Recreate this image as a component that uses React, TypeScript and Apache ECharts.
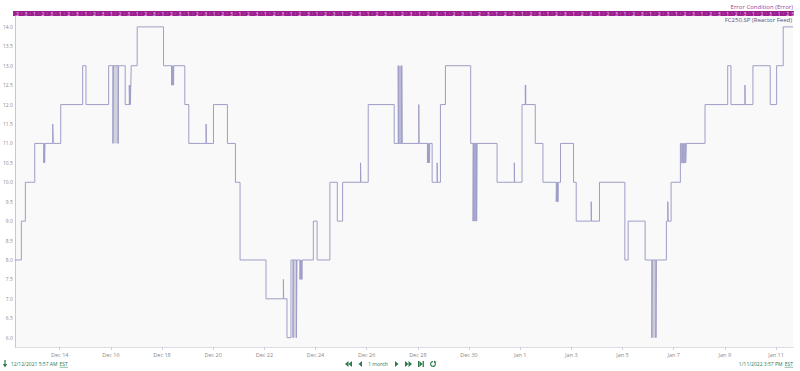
import { useEffect, useRef } from "react";
import * as echarts from "echarts";

const BASE = Date.UTC(2021, 11, 12); // Dec 12 2021 00:00
const DAY = 86400000;
const rangeStartDay = 0.248; // 12/12/2021 5:57 AM
const rangeEndDay = 30.665; // 1/11/2022 3:57 PM

// FC250.SP step points: day offset from Dec 12 00:00, value from that moment on
const stepDays = [
  0.248, 0.501, 0.657, 1.024,
  1.376, 1.395, 1.411, 1.426,
  1.727, 1.75,
  2.039, 2.898, 3.027, 3.913,
  4.08, 4.098, 4.284, 4.302,
  4.56, 4.72, 4.735, 4.75, 4.765, 4.78, 4.795,
  5.029, 6.059,
  6.372, 6.39, 6.41, 6.43, 6.45, 6.46,
  6.891, 7.047, 7.722, 7.735, 8.011, 8.557, 8.87, 9.049, 10.064, 10.743, 10.756, 10.884,
  11.04, 11.118, 11.136, 11.255, 11.274,
  11.391, 11.41, 11.43, 11.45, 11.469, 11.48,
  11.914, 12.062, 12.562, 12.851, 13.058, 13.76, 13.773, 14.061, 15.076,
  15.232, 15.25, 15.37, 15.388,
  16.036, 16.049,
  16.375, 16.395, 16.415, 16.435, 16.455, 16.465,
  16.559, 16.754, 16.767, 16.883, 17.078, 18.066,
  18.159, 18.177, 18.297, 18.315,
  19.096, 19.771, 19.784, 20.072, 20.201, 20.208, 20.214, 20.22, 20.591, 20.891,
  21.411, 21.43, 21.45, 21.465, 21.477, 21.49,
  21.578, 22.086, 22.191, 22.776, 22.789, 23.1, 24.092, 24.221, 24.884,
  25.146, 25.164, 25.307, 25.325,
  25.716, 25.771, 25.784, 25.9,
  26.262, 26.29, 26.32, 26.35, 26.38, 26.41, 26.44, 26.47, 26.496,
  27.226, 28.112, 28.24, 28.786, 28.799, 29.098, 29.775, 30.025, 30.283, 30.665,
];
const stepValues = [
  8, 9, 10, 11,
  10.5, 11, 10.5, 11,
  11.5, 11,
  12, 13, 12, 13,
  11, 13, 11, 13,
  12, 12.5, 12, 12.5, 12, 12.5, 13,
  14, 13,
  12.5, 13, 12.5, 13, 12.5, 13,
  12, 11, 11.5, 11, 12, 11, 10, 8, 7, 7.5, 7, 6,
  8, 6, 8, 6, 8,
  7.5, 8, 7.5, 8, 7.5, 8,
  9, 8, 10, 9, 10, 10.5, 10, 12, 11,
  13, 11, 13, 11,
  12, 11,
  10.5, 11, 10.5, 11, 10.5, 11,
  10, 10.5, 10, 12, 13, 11,
  9, 11, 9, 11,
  10, 10.5, 10, 12, 12.5, 12, 12.5, 12, 11, 10,
  9.5, 10, 9.5, 10, 9.5, 10,
  11, 10, 9, 9.5, 9, 10, 8, 9, 8,
  6, 8, 6, 8,
  9, 9.5, 9, 10,
  11, 10.5, 11, 10.5, 11, 10.5, 11, 10.5, 11,
  12, 13, 12, 12.5, 12, 13, 12, 13, 14, 14,
];

// rapid-oscillation bands: [startDay, endDay, low, high]
const oscillationBands = [
  [4.08, 4.302, 11, 13],
  [11.118, 11.274, 6, 8],
  [15.232, 15.388, 11, 13],
  [18.159, 18.315, 9, 11],
  [25.146, 25.325, 6, 8],
];
const bandFills = ["#d2d2de", "#d2d2de", "#babad8", "#a9a9d0", "#cdcdda"];

const yTickValues = [6, 6.5, 7, 7.5, 8, 8.5, 9, 9.5, 10, 10.5, 11, 11.5, 12, 12.5, 13, 13.5, 14];
const xTickDays = [2, 4, 6, 8, 10, 12, 14, 16, 18, 20, 22, 24, 26, 28, 30];
const xTickLabels = [
  "Dec 14", "Dec 16", "Dec 18", "Dec 20", "Dec 22", "Dec 24", "Dec 26", "Dec 28",
  "Dec 30", "Jan 1", "Jan 3", "Jan 5", "Jan 7", "Jan 9", "Jan 11",
];

// Error Condition states, one per 8-hour shift starting Dec 12 06:00
const errorStartDay = 0.25;
const errorShiftHours = 8;
const errorStates = [
  2, 3, 1, 2, 3, 1, 2, 3, 1, 2, 3, 1, 2, 3, 1, 2, 3, 1, 2, 3, 1, 2, 3, 1,
  2, 3, 1, 2, 3, 1, 2, 3, 1, 2, 3, 1, 2, 3, 1, 2, 3, 1, 2, 3, 1, 2, 3, 1,
  2, 3, 1, 2, 3, 1, 2, 3, 1, 2, 3, 1, 2, 3, 1, 2, 3, 1, 2, 3, 1, 2, 3, 1,
  2, 3, 1, 2, 3, 1, 2, 3, 1, 2, 3, 1, 2, 3, 1, 2, 3, 1, 2, 3,
];

const FONT = "Open Sans";
const GREEN = "#2e7a50";
const PURPLE = "#9c1f8f";

export default function App() {
  const ref = useRef<HTMLDivElement>(null);

  useEffect(() => {
    if (!ref.current) return;
    const chart = echarts.init(ref.current, undefined, { renderer: "svg" });

    const lineData = stepDays.map((d, i) => [BASE + d * DAY, stepValues[i]]);
    const errData = errorStates.map((s, i) => [
      BASE + (errorStartDay + (i * errorShiftHours) / 24) * DAY,
      BASE + (errorStartDay + ((i + 1) * errorShiftHours) / 24) * DAY,
      s,
    ]);
    const xMin = BASE + rangeStartDay * DAY;
    const xMax = BASE + rangeEndDay * DAY;
    const xTickMs = xTickDays.map((d) => BASE + d * DAY);
    const bandAreas = oscillationBands.map((b, i) => [
      { coord: [BASE + b[0] * DAY, b[2]], itemStyle: { color: bandFills[i] } },
      { coord: [BASE + b[1] * DAY, b[3]] },
    ]);

    const tri = (pts: number[][]) => ({
      type: "polygon",
      shape: { points: pts },
      style: { fill: GREEN },
      silent: true,
    });

    chart.setOption({
      animation: false,
      backgroundColor: "#ffffff",
      grid: [
        {
          left: 13, right: 7, top: 16, bottom: 24,
          show: true, backgroundColor: "#f9f9f9", borderWidth: 0,
        },
        {
          left: 13, right: 6, top: 11, height: 5,
          show: true, backgroundColor: PURPLE, borderWidth: 0,
        },
      ],
      xAxis: [
        {
          type: "value",
          gridIndex: 0,
          min: xMin,
          max: xMax,
          axisLine: { show: true, lineStyle: { color: "#dcdce4", width: 1 } },
          axisTick: { show: true, customValues: xTickMs, length: 3, lineStyle: { color: "#cfcfd8" } },
          axisLabel: {
            customValues: xTickMs,
            fontSize: 5.5,
            color: "#8a8a8a",
            fontFamily: FONT,
            margin: 5,
            formatter: (v: number) => {
              const idx = xTickMs.findIndex((t) => Math.abs(t - v) < 1000);
              return idx >= 0 ? xTickLabels[idx] : "";
            },
          },
          splitLine: { show: false },
        },
        {
          type: "value",
          gridIndex: 1,
          min: xMin,
          max: xMax,
          show: false,
        },
      ],
      yAxis: [
        {
          type: "value",
          gridIndex: 0,
          min: 5.76,
          max: 14.28,
          axisLine: { show: true, lineStyle: { color: "#c6c6d6", width: 1 } },
          axisTick: { show: false },
          axisLabel: {
            customValues: yTickValues,
            fontSize: 5,
            color: "#8a8a8a",
            fontFamily: FONT,
            margin: 2,
            formatter: (v: number) => v.toFixed(1),
          },
          splitLine: { show: false },
        },
        { type: "value", gridIndex: 1, min: 0, max: 1, show: false },
      ],
      series: [
        {
          type: "line",
          name: "FC250.SP (Reactor Feed)",
          xAxisIndex: 0,
          yAxisIndex: 0,
          data: lineData,
          step: "end",
          symbol: "none",
          lineStyle: { color: "#9e9ec8", width: 1 },
          clip: true,
          markArea: { silent: true, data: bandAreas },
        },
        {
          type: "custom",
          name: "Error Condition (Error)",
          xAxisIndex: 1,
          yAxisIndex: 1,
          data: errData,
          encode: { x: [0, 1] },
          renderItem: (params: any, api: any) => {
            const cs = params.coordSys;
            let x1 = api.coord([api.value(0), 0])[0];
            let x2 = api.coord([api.value(1), 0])[0];
            x1 = Math.max(x1, cs.x);
            x2 = Math.min(x2, cs.x + cs.width);
            if (x2 <= x1) return null;
            return {
              type: "group",
              children: [
                {
                  type: "line",
                  shape: { x1: x1, y1: cs.y + 1.5, x2: x1, y2: cs.y + cs.height - 1.5 },
                  style: { stroke: "rgba(255,255,255,0.35)", lineWidth: 0.5 },
                },
                {
                  type: "text",
                  x: (x1 + x2) / 2,
                  y: cs.y + cs.height / 2,
                  style: {
                    text: String(api.value(2)),
                    fill: "#f4dcf1",
                    fontSize: 5,
                    fontFamily: FONT,
                    align: "center",
                    verticalAlign: "middle",
                  },
                },
              ],
            };
          },
        },
      ],
      graphic: [
        {
          type: "text", right: 7, top: 4,
          style: { text: "Error Condition (Error)", fill: "#a2449a", fontSize: 6, fontFamily: FONT },
        },
        {
          type: "text", right: 8, top: 17,
          style: { text: "FC250.SP (Reactor Feed)", fill: "#55557a", fontSize: 6, fontFamily: FONT },
        },
        // bottom left
        { type: "line", shape: { x1: 5, y1: 360, x2: 5, y2: 365 }, style: { stroke: GREEN, lineWidth: 1.2 } },
        tri([[2.8, 364], [7.2, 364], [5, 367.5]]),
        {
          type: "text", x: 57.5, y: 364,
          style: { text: "12/12/2021 5:57 AM", fill: GREEN, fontSize: 5, fontFamily: FONT, verticalAlign: "middle", align: "right" },
        },
        {
          type: "text", x: 59.5, y: 364,
          style: { text: "EST", fill: GREEN, fontSize: 5, fontFamily: FONT, verticalAlign: "middle" },
        },
        { type: "line", shape: { x1: 59.5, y1: 367.3, x2: 68, y2: 367.3 }, style: { stroke: GREEN, lineWidth: 0.5 } },
        // bottom right
        {
          type: "text", x: 782.5, y: 364,
          style: { text: "1/11/2022 3:57 PM", fill: GREEN, fontSize: 5, fontFamily: FONT, verticalAlign: "middle", align: "right" },
        },
        {
          type: "text", x: 793, y: 364,
          style: { text: "EST", fill: GREEN, fontSize: 5, fontFamily: FONT, verticalAlign: "middle", align: "right" },
        },
        { type: "line", shape: { x1: 784.5, y1: 367.3, x2: 793, y2: 367.3 }, style: { stroke: GREEN, lineWidth: 0.5 } },
        // navigation controls
        tri([[352, 361], [352, 367], [348.5, 364]]),
        tri([[348.5, 361], [348.5, 367], [345, 364]]),
        tri([[362, 361], [362, 367], [358.5, 364]]),
        {
          type: "text", x: 378, y: 364,
          style: { text: "1 month", fill: GREEN, fontSize: 5, fontFamily: FONT, verticalAlign: "middle", align: "center" },
        },
        tri([[395, 361], [395, 367], [398.5, 364]]),
        tri([[405, 361], [405, 367], [408.5, 364]]),
        tri([[408.5, 361], [408.5, 367], [412, 364]]),
        { type: "rect", shape: { x: 418, y: 361, width: 1.3, height: 6 }, style: { fill: GREEN } },
        tri([[419.5, 361], [419.5, 367], [422.5, 364]]),
        { type: "rect", shape: { x: 422.6, y: 361, width: 1.3, height: 6 }, style: { fill: GREEN } },
        {
          type: "arc",
          shape: { cx: 433, cy: 364, r: 2.4, startAngle: -Math.PI * 0.3, endAngle: Math.PI * 1.5 },
          style: { stroke: GREEN, lineWidth: 1.1, fill: "none" },
        },
        tri([[434, 360.4], [436.4, 361.8], [434.2, 363]]),
      ],
    });

    return () => chart.dispose();
  }, []);

  return (
    <div
      ref={ref}
      style={{ position: "fixed", left: 0, top: 0, width: 800, height: 371 }}
    />
  );
}
